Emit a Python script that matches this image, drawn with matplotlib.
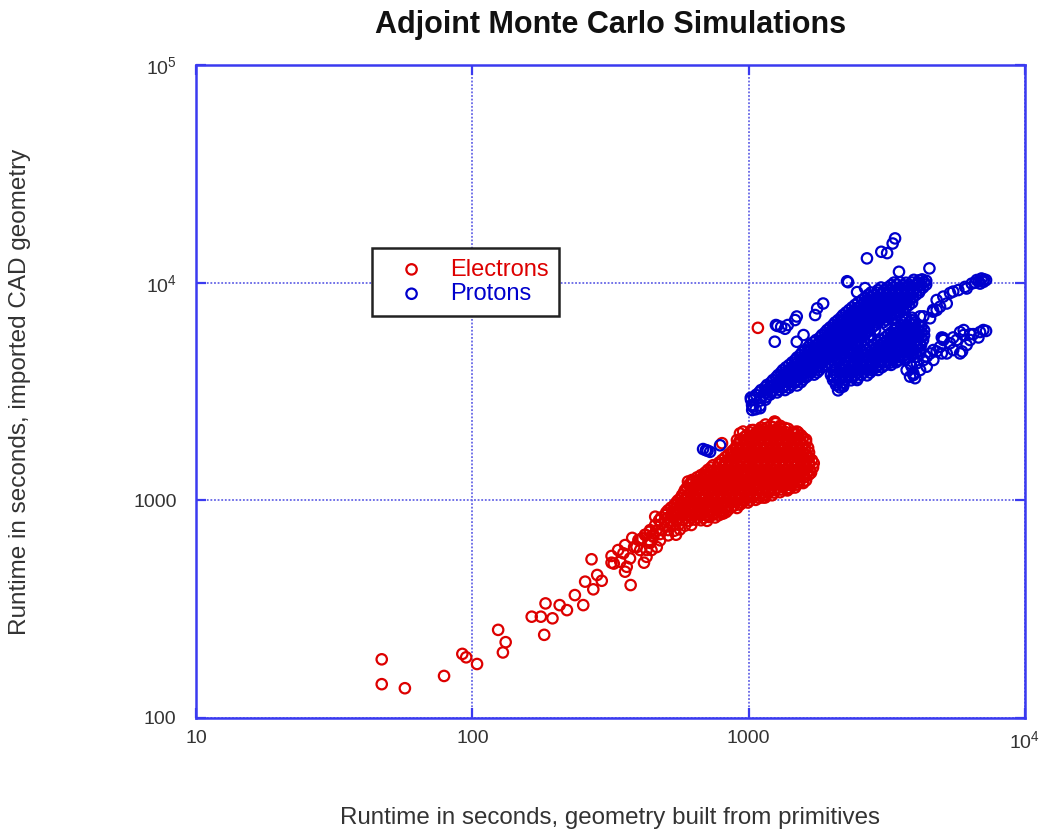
import numpy as np
import matplotlib
matplotlib.use("agg")
from matplotlib import pyplot as plt
from matplotlib.ticker import FixedLocator, FixedFormatter, NullLocator

plt.rcParams['font.family'] = ['Liberation Sans', 'DejaVu Sans']
plt.rcParams['mathtext.fontset'] = 'custom'
plt.rcParams['mathtext.rm'] = 'Liberation Sans'
plt.rcParams['mathtext.it'] = 'Liberation Sans'

# runtimes in seconds: (geometry from primitives, imported CAD geometry)

# electrons - sparse low-runtime tail
electron_tail = [
    (47, 186), (47, 143), (57, 137), (79, 156), (92, 197), (95, 190), (104, 177),
    (124, 254), (132, 223), (129, 200), (164, 292), (177, 292), (184, 336),
    (195, 287), (182, 241), (207, 330), (220, 313), (235, 367), (252, 330),
    (256, 423), (274, 390), (270, 536), (283, 454), (294, 427), (319, 517),
    (352, 571), (362, 495), (374, 408), (418, 517), (399, 657), (438, 717),
    (459, 841), (343, 522), (357, 470), (325, 512), (405, 591), (440, 637),
    (452, 680), (427, 591), (465, 610), (385, 610), (393, 610), (372, 541),
    (412, 669), (422, 693), (445, 591), (427, 550), (357, 623), (379, 672),
    (337, 591), (319, 555), (1080, 6200),
]

# electrons - dense main group
electron_core = [
    (1150, 2230), (1200, 2190), (1250, 2260), (1300, 2200), (1240, 2300),
    (1025, 2100), (1080, 2080), (1135, 2120), (1194, 2090), (1255, 2110), (1320, 2070), (1390, 2130), (1460, 2060),
    (985, 2000), (1040, 1980), (1090, 2010), (1145, 1990), (1205, 2005), (1270, 1985), (1333, 2000), (1400, 1975),
    (1473, 2010), (1547, 1990),
    (930, 1890), (978, 1900), (1025, 1880), (1080, 1895), (1135, 1900), (1194, 1885), (1255, 1890), (1320, 1905),
    (1390, 1880), (1460, 1895), (1534, 1885), (1613, 1900),
    (907, 1800), (954, 1790), (1000, 1805), (1050, 1795), (1105, 1785), (1165, 1800), (1225, 1790), (1290, 1805),
    (1355, 1795), (1425, 1800), (1495, 1785), (1575, 1795),
    (879, 1700), (922, 1710), (970, 1695), (1017, 1705), (1065, 1700), (1125, 1710), (1185, 1695), (1247, 1705),
    (1310, 1700), (1380, 1695), (1450, 1710), (1520, 1700), (1600, 1705),
    (843, 1620), (886, 1610), (930, 1615), (978, 1625), (1025, 1610), (1080, 1620), (1135, 1605), (1194, 1615),
    (1255, 1620), (1320, 1610), (1390, 1615), (1460, 1625), (1534, 1610), (1613, 1620),
    (801, 1530), (843, 1535), (886, 1525), (930, 1540), (978, 1530), (1025, 1535), (1080, 1525), (1135, 1530),
    (1194, 1540), (1255, 1530), (1320, 1525), (1390, 1535), (1460, 1530), (1534, 1540), (1613, 1525), (1695, 1530),
    (744, 1450), (781, 1460), (822, 1445), (864, 1455), (907, 1450), (954, 1460), (1000, 1445), (1050, 1455),
    (1105, 1450), (1165, 1460), (1225, 1445), (1290, 1455), (1355, 1450), (1425, 1460), (1495, 1445), (1575, 1455),
    (1655, 1450),
    (712, 1380), (750, 1370), (788, 1385), (829, 1375), (871, 1380), (915, 1370), (962, 1385), (1010, 1375),
    (1060, 1380), (1115, 1370), (1175, 1385), (1237, 1375), (1299, 1380), (1367, 1370), (1436, 1385), (1510, 1375),
    (1585, 1380), (1668, 1370),
    (672, 1305), (707, 1310), (744, 1300), (781, 1315), (822, 1305), (864, 1310), (907, 1300), (954, 1305),
    (1000, 1315), (1050, 1300), (1105, 1310), (1165, 1305), (1225, 1300), (1290, 1315), (1355, 1305), (1425, 1310),
    (1495, 1300), (1575, 1305), (1655, 1315),
    (624, 1240), (656, 1235), (689, 1245), (725, 1240), (762, 1230), (801, 1245), (843, 1240), (886, 1235),
    (930, 1245), (978, 1240), (1025, 1230), (1080, 1245), (1135, 1240), (1194, 1235), (1255, 1245), (1320, 1240),
    (1390, 1230), (1460, 1245), (1534, 1240), (1613, 1235),
    (608, 1180), (640, 1170), (672, 1175), (707, 1185), (744, 1170), (781, 1180), (822, 1175), (864, 1170),
    (907, 1185), (954, 1175), (1000, 1180), (1050, 1170), (1105, 1175), (1165, 1185), (1225, 1170), (1290, 1180),
    (1355, 1175), (1425, 1170), (1495, 1180),
    (588, 1115), (620, 1120), (650, 1110), (684, 1115), (720, 1125), (756, 1110), (795, 1115), (836, 1120),
    (879, 1110), (922, 1115), (970, 1125), (1017, 1110), (1065, 1115), (1125, 1120), (1185, 1110), (1247, 1115),
    (1310, 1120), (1380, 1110),
    (574, 1055), (603, 1050), (635, 1060), (667, 1055), (700, 1050), (737, 1060), (775, 1055), (815, 1045),
    (857, 1060), (900, 1055), (946, 1050), (993, 1060), (1040, 1055), (1098, 1050), (1155, 1060), (1215, 1055),
    (555, 1000), (583, 1005), (614, 995), (645, 1000), (678, 1010), (712, 995), (750, 1000), (788, 1005),
    (829, 995), (871, 1000), (915, 1010), (962, 995), (1010, 1000), (1060, 1005),
    (538, 950), (564, 945), (593, 955), (624, 950), (656, 945), (689, 955), (725, 950), (762, 945),
    (801, 955), (843, 950), (886, 945), (930, 955),
    (511, 900), (538, 905), (564, 895), (593, 900), (624, 910), (656, 900), (689, 895), (725, 905),
    (762, 900), (801, 895), (843, 905),
    (499, 855), (525, 850), (550, 860), (578, 855), (608, 850), (640, 860), (672, 855), (707, 850),
    (744, 860), (781, 855),
    (474, 810), (499, 815), (525, 805), (550, 815), (578, 810), (608, 805), (640, 815), (672, 810), (707, 805),
    (459, 770), (482, 775), (507, 765), (533, 770), (560, 775), (588, 765), (620, 770),
    (440, 730), (463, 725), (487, 735), (511, 730), (538, 725), (564, 735),
    (422, 695), (448, 690), (478, 700), (511, 690), (546, 695),
    (405, 660), (440, 650), (478, 655),
]

# electrons - runs lying between the rows above
electron_core_mid = [
    (1109, 2160), (1166, 2155), (1225, 2165), (1288, 2160), (1354, 2150),
    (1012, 2050), (1064, 2045), (1118, 2055), (1176, 2050), (1236, 2040), (1299, 2050), (1365, 2055), (1436, 2045),
    (1510, 2050),
    (962, 1945), (1012, 1940), (1064, 1950), (1118, 1945), (1176, 1935), (1236, 1945), (1299, 1950), (1365, 1940),
    (1436, 1945), (1510, 1950), (1574, 1940),
    (930, 1845), (978, 1840), (1029, 1850), (1082, 1845), (1137, 1835), (1195, 1845), (1257, 1850), (1321, 1840),
    (1389, 1845), (1460, 1850), (1535, 1840), (1613, 1845),
    (900, 1750), (946, 1745), (995, 1755), (1046, 1750), (1100, 1740), (1156, 1750), (1215, 1755), (1278, 1745),
    (1343, 1750), (1412, 1755), (1484, 1745), (1561, 1750), (1641, 1745),
    (864, 1660), (907, 1655), (954, 1665), (1003, 1660), (1055, 1650), (1109, 1660), (1166, 1665), (1225, 1655),
    (1288, 1660), (1354, 1665), (1424, 1655), (1497, 1660), (1574, 1650), (1654, 1660),
    (822, 1575), (864, 1570), (907, 1580), (954, 1575), (1003, 1565), (1055, 1575), (1109, 1580), (1166, 1570),
    (1225, 1575), (1288, 1580), (1354, 1570), (1424, 1575), (1497, 1580), (1574, 1570), (1654, 1575),
    (781, 1490), (822, 1495), (864, 1485), (907, 1490), (954, 1495), (1003, 1485), (1055, 1490), (1109, 1495),
    (1166, 1485), (1225, 1490), (1288, 1495), (1354, 1485), (1424, 1490), (1497, 1495), (1574, 1485), (1654, 1490),
    (731, 1415), (769, 1410), (808, 1420), (850, 1415), (893, 1405), (938, 1415), (986, 1420), (1037, 1410),
    (1091, 1415), (1147, 1420), (1205, 1410), (1267, 1415), (1332, 1420), (1400, 1410), (1472, 1415), (1547, 1420),
    (1627, 1410), (1710, 1415),
    (695, 1340), (731, 1345), (769, 1335), (808, 1340), (850, 1345), (893, 1335), (938, 1340), (986, 1345),
    (1037, 1335), (1091, 1340), (1147, 1345), (1205, 1335), (1267, 1340), (1332, 1345), (1400, 1335), (1472, 1340),
    (1547, 1345), (1627, 1335), (1682, 1340),
    (651, 1275), (684, 1270), (719, 1280), (756, 1275), (795, 1265), (836, 1275), (879, 1280), (922, 1270),
    (970, 1275), (1020, 1280), (1073, 1270), (1128, 1275), (1186, 1280), (1246, 1270), (1310, 1275), (1377, 1280),
    (1448, 1270), (1522, 1275), (1600, 1280),
    (620, 1205), (651, 1210), (684, 1200), (719, 1205), (756, 1210), (795, 1200), (836, 1205), (879, 1210),
    (922, 1200), (970, 1205), (1020, 1210), (1073, 1200), (1128, 1205), (1186, 1210), (1246, 1200), (1310, 1205),
    (1377, 1210), (1448, 1200), (1522, 1205), (1574, 1210),
    (598, 1145), (630, 1150), (661, 1140), (695, 1145), (731, 1150), (769, 1140), (808, 1145), (850, 1150),
    (893, 1140), (938, 1145), (986, 1150), (1037, 1140), (1091, 1145), (1147, 1150), (1205, 1140), (1267, 1145),
    (1332, 1150), (1400, 1140), (1472, 1145),
    (583, 1085), (614, 1090), (645, 1080), (678, 1085), (712, 1090), (750, 1080), (788, 1085), (829, 1090),
    (871, 1080), (915, 1085), (962, 1090), (1012, 1080), (1064, 1085), (1118, 1090), (1176, 1080), (1236, 1085),
    (1299, 1090),
    (569, 1030), (598, 1025), (630, 1035), (661, 1030), (695, 1020), (731, 1030), (769, 1035), (808, 1025),
    (850, 1030), (893, 1035), (938, 1025), (986, 1030), (1037, 1035), (1091, 1025), (1147, 1030),
    (547, 977), (574, 972), (603, 982), (635, 977), (667, 970), (700, 980), (737, 975), (775, 982),
    (815, 972), (857, 977), (900, 982), (946, 972), (993, 977),
    (524, 926), (547, 930), (574, 920), (608, 926), (640, 932), (672, 922), (707, 926), (744, 930),
    (781, 920), (822, 926), (864, 930), (907, 922),
    (503, 879), (529, 884), (555, 874), (583, 879), (614, 884), (645, 874), (678, 879), (712, 884),
    (750, 874), (788, 879), (829, 884),
    (482, 834), (507, 830), (533, 838), (560, 834), (588, 828), (620, 836), (650, 834), (684, 830),
    (719, 838), (756, 834),
]

# electrons - loose points round the edge of the main group
electron_edge = [
    (1247, 2290), (1495, 2070), (1720, 1480), (1575, 1560), (1412, 1135), (1010, 1035),
    (810, 870), (630, 1218), (695, 1307), (955, 2070), (1040, 2104), (1098, 2104),
    (801, 1830), (907, 1893), (930, 2030), (603, 1220), (688, 1307), (1378, 1130),
    (1575, 1200), (1128, 1030), (836, 902), (800, 870),
]

# protons - main diagonal bands
proton_bands = [
    (3960, 10300), (4140, 10250), (4240, 10350), (4390, 10200),
    (3277, 9750), (3440, 9800), (3620, 9700), (3806, 9780), (4001, 9720), (4207, 9760), (4390, 9800),
    (2940, 9250), (3090, 9200), (3249, 9280), (3415, 9230), (3590, 9260), (3775, 9210), (3968, 9270), (4172, 9240),
    (2705, 8780), (2844, 8750), (2989, 8800), (3142, 8760), (3303, 8790), (3473, 8740), (3651, 8780), (3838, 8760),
    (4035, 8800),
    (2572, 8320), (2705, 8350), (2844, 8300), (2989, 8330), (3142, 8310), (3303, 8340), (3473, 8300), (3651, 8330),
    (3838, 8320),
    (2427, 7900), (2551, 7870), (2683, 7910), (2820, 7880), (2965, 7900), (3116, 7870), (3277, 7910), (3444, 7890),
    (3620, 7880), (3806, 7900),
    (2310, 7490), (2427, 7470), (2551, 7500), (2683, 7480), (2820, 7460), (2965, 7500), (3116, 7480), (3277, 7490),
    (3444, 7470), (3620, 7500),
    (2197, 7100), (2310, 7080), (2427, 7110), (2551, 7090), (2683, 7100), (2820, 7120), (2965, 7080), (3116, 7100),
    (3277, 7090), (3444, 7110),
    (2107, 6730), (2215, 6750), (2328, 6720), (2448, 6740), (2572, 6730), (2705, 6750), (2844, 6720), (2989, 6740),
    (3142, 6730), (3303, 6750), (3681, 6740), (3904, 6720),
    (2020, 6390), (2124, 6370), (2233, 6400), (2347, 6380), (2468, 6390), (2594, 6370), (2727, 6400), (2867, 6380),
    (3168, 6370), (3560, 6390), (3742, 6380), (3935, 6400), (4137, 6370),
    (1924, 6060), (2020, 6040), (2124, 6070), (2233, 6050), (2347, 6060), (2468, 6040), (2594, 6070), (2727, 6050),
    (2867, 6060), (3359, 6060), (3531, 6050), (3711, 6070), (3904, 6040), (4104, 6060), (4314, 6050),
    (1843, 5750), (1937, 5730), (2037, 5760), (2142, 5740), (2251, 5750), (2367, 5730), (2489, 5760), (2617, 5740),
    (2750, 5750), (3194, 5740), (3359, 5760), (3531, 5730), (3711, 5750), (3904, 5740), (4104, 5760), (4314, 5730),
    (1754, 5450), (1843, 5430), (1937, 5460), (2037, 5440), (2142, 5450), (2251, 5470), (2367, 5440), (2489, 5450),
    (2617, 5430), (3014, 5450), (3168, 5440), (3330, 5460), (3502, 5450), (3681, 5430), (3870, 5460), (4069, 5440),
    (4278, 5450),
    (1668, 5170), (1754, 5150), (1843, 5180), (1937, 5160), (2037, 5170), (2142, 5150), (2251, 5180), (2367, 5160),
    (2489, 5170), (2844, 5160), (2989, 5180), (3142, 5150), (3303, 5170), (3473, 5160), (3651, 5180), (3838, 5150),
    (4035, 5170), (4207, 5160),
    (1600, 4900), (1682, 4920), (1768, 4890), (1859, 4910), (1955, 4900), (2054, 4920), (2160, 4890), (2271, 4910),
    (2387, 4900), (2660, 4910), (2796, 4890), (2940, 4920), (3090, 4900), (3249, 4910), (3415, 4890), (3590, 4920),
    (3775, 4900), (3968, 4910), (4172, 4890),
    (1535, 4650), (1613, 4630), (1696, 4660), (1783, 4640), (1874, 4650), (1970, 4670), (2071, 4640), (2178, 4650),
    (2367, 4660), (2489, 4640), (2617, 4650), (2750, 4670), (2891, 4640), (3040, 4650), (3194, 4660), (3359, 4640),
    (3531, 4650), (3711, 4670), (3904, 4640),
    (1472, 4410), (1547, 4430), (1627, 4400), (1710, 4420), (1798, 4410), (1890, 4400), (1986, 4430), (2088, 4410),
    (2233, 4420), (2347, 4400), (2468, 4410), (2594, 4430), (2727, 4400), (2867, 4420), (3014, 4410), (3168, 4400),
    (3330, 4430), (3502, 4410), (3681, 4420),
    (1400, 4180), (1472, 4200), (1547, 4170), (1627, 4190), (1710, 4180), (1798, 4170), (1890, 4200), (1986, 4180),
    (2197, 4190), (2310, 4170), (2427, 4200), (2551, 4180), (2683, 4190), (2820, 4170), (2965, 4200), (3116, 4180),
    (3277, 4190),
    (1331, 3970), (1400, 3950), (1472, 3980), (1547, 3960), (1627, 3970), (1710, 3990), (1798, 3960), (2071, 3970),
    (2178, 3950), (2290, 3980), (2407, 3960), (2530, 3970), (2660, 3990), (2796, 3960), (2940, 3970),
    (1278, 3760), (1343, 3780), (1412, 3750), (1484, 3770), (1561, 3760), (1641, 3750), (1725, 3780), (1986, 3760),
    (2088, 3770), (2197, 3750), (2310, 3780), (2427, 3760), (2551, 3770), (2683, 3750),
    (1225, 3570), (1288, 3550), (1354, 3580), (1424, 3560), (1497, 3570), (1574, 3590), (2020, 3570), (2124, 3550),
    (2233, 3580), (2347, 3560), (2468, 3570),
    (1166, 3390), (1225, 3370), (1288, 3400), (1354, 3380), (1424, 3390), (1497, 3370), (2071, 3390), (2197, 3370),
    (1109, 3210), (1166, 3230), (1225, 3200), (1288, 3220), (1354, 3210), (2107, 3200),
    (1064, 3050), (1128, 3030), (1195, 3060),
    (1020, 2890), (1100, 2870), (1150, 2900),
    (1029, 2740), (1100, 2720),
    (1018, 2960), (1035, 2690), (1100, 2650), (1060, 2620), (1030, 2600),
]

# protons - runs lying between the rows above
proton_bands_mid = [
    (3359, 10010), (3531, 10040), (3712, 9990), (3902, 10020), (4103, 10000), (4313, 10030),
    (3014, 9500), (3168, 9480), (3331, 9510), (3502, 9490), (3681, 9500), (3870, 9520), (4068, 9480), (4277, 9500),
    (2773, 9010), (2915, 9000), (3065, 9020), (3222, 8990), (3387, 9010), (3561, 9000), (3743, 9020), (3935, 8990),
    (4137, 9010),
    (2638, 8540), (2773, 8560), (2915, 8530), (3065, 8550), (3222, 8540), (3387, 8560), (3561, 8530), (3743, 8550),
    (3935, 8540),
    (2488, 8100), (2616, 8120), (2750, 8090), (2891, 8110), (3039, 8100), (3195, 8120), (3359, 8090), (3531, 8110),
    (3712, 8100), (3902, 8090),
    (2367, 7690), (2488, 7670), (2616, 7700), (2750, 7680), (2891, 7690), (3039, 7670), (3195, 7700), (3359, 7680),
    (3531, 7690), (3712, 7680),
    (2252, 7290), (2367, 7300), (2488, 7280), (2616, 7290), (2750, 7300), (2891, 7280), (3039, 7290), (3195, 7300),
    (3359, 7280), (3531, 7290),
    (2160, 6920), (2270, 6910), (2387, 6930), (2509, 6900), (2638, 6920), (2773, 6910), (2915, 6930), (3065, 6900),
    (3222, 6920), (3387, 6910), (3712, 6920), (3902, 6900),
    (2054, 6560), (2160, 6550), (2270, 6570), (2387, 6560), (2509, 6550), (2638, 6570), (2773, 6560), (2915, 6550),
    (3065, 6570), (3620, 6560), (3806, 6550), (4001, 6570),
    (1970, 6220), (2071, 6230), (2178, 6210), (2290, 6220), (2407, 6230), (2530, 6210), (2660, 6220), (2796, 6230),
    (3444, 6220), (3620, 6230), (3806, 6210), (4001, 6220), (4207, 6230),
    (1890, 5900), (1986, 5910), (2088, 5890), (2197, 5900), (2310, 5910), (2427, 5890), (2551, 5900), (2683, 5910),
    (3277, 5900), (3444, 5910), (3620, 5890), (3806, 5900), (4001, 5910), (4207, 5890),
    (1813, 5600), (1904, 5590), (2002, 5610), (2105, 5600), (2213, 5590), (2328, 5610), (2448, 5600), (2572, 5590),
    (2705, 5610), (3116, 5600), (3277, 5590), (3444, 5610), (3620, 5600), (3806, 5590), (4001, 5610), (4207, 5600),
    (1710, 5310), (1798, 5300), (1890, 5320), (1986, 5310), (2088, 5300), (2197, 5320), (2310, 5310), (2427, 5300),
    (2551, 5320), (2940, 5310), (3090, 5300), (3249, 5320), (3415, 5310), (3590, 5300), (3775, 5320), (3968, 5310),
    (4172, 5300),
    (1640, 5040), (1724, 5030), (1813, 5050), (1904, 5040), (2002, 5030), (2105, 5050), (2213, 5040), (2328, 5030),
    (2448, 5050), (2750, 5040), (2891, 5030), (3039, 5050), (3195, 5040), (3359, 5030), (3531, 5050), (3712, 5040),
    (3902, 5030), (4103, 5050),
    (1561, 4780), (1640, 4770), (1724, 4790), (1813, 4780), (1904, 4770), (2002, 4790), (2105, 4780), (2213, 4770),
    (2328, 4790), (2572, 4780), (2705, 4770), (2844, 4790), (2989, 4780), (3142, 4770), (3303, 4790), (3473, 4780),
    (3651, 4770), (3838, 4790), (4035, 4780),
    (1497, 4530), (1574, 4520), (1654, 4540), (1739, 4530), (1828, 4520), (1921, 4540), (2020, 4530), (2124, 4520),
    (2233, 4540), (2347, 4530), (2468, 4520), (2594, 4540), (2727, 4530), (2867, 4520), (3014, 4540), (3168, 4530),
    (3331, 4520), (3502, 4540), (3681, 4530),
    (1436, 4300), (1510, 4290), (1587, 4310), (1668, 4300), (1754, 4290), (1843, 4310), (1937, 4300), (2290, 4300),
    (2407, 4290), (2530, 4310), (2660, 4300), (2796, 4290), (2940, 4310), (3090, 4300), (3249, 4290), (3415, 4310),
    (1365, 4080), (1436, 4070), (1510, 4090), (1587, 4080), (1668, 4070), (1754, 4090), (1843, 4080), (2142, 4070),
    (2252, 4090), (2367, 4080), (2488, 4070), (2616, 4090), (2750, 4080), (2891, 4070), (3039, 4090),
    (1310, 3870), (1377, 3860), (1448, 3880), (1522, 3870), (1600, 3860), (1682, 3880), (1768, 3870), (2037, 3860),
    (2142, 3880), (2252, 3870), (2367, 3860), (2488, 3880), (2616, 3870), (2750, 3860),
    (1257, 3670), (1321, 3660), (1389, 3680), (1460, 3670), (1535, 3660), (1613, 3680), (2037, 3670), (2142, 3660),
    (2252, 3680), (2367, 3670), (2488, 3660),
    (1205, 3480), (1267, 3470), (1332, 3490), (1400, 3480), (1472, 3470), (1547, 3490), (2071, 3480), (2197, 3470),
    (1147, 3300), (1205, 3290), (1267, 3310), (1332, 3300), (1400, 3290),
    (1091, 3130), (1147, 3120), (1205, 3140), (1267, 3130),
    (1046, 2970), (1100, 2960), (1156, 2980),
]

# protons - two groups at the longest primitive runtimes
proton_right = [
    (4650, 7485), (4790, 8320), (5065, 8630), (5355, 8960), (5740, 9248), (6069, 9560), (6415, 9900),
    (6690, 10280), (6960, 10450), (7230, 10280), (6877, 9900), (7070, 10080), (4927, 7750), (5210, 8020),
    (5500, 9100), (6150, 9400), (4290, 7000), (4650, 7360), (4230, 6270), (4172, 7000), (4534, 6860),
    (4790, 7485), (6800, 10150), (7100, 10350), (6600, 10000),
    (3730, 3967), (3946, 3763), (3838, 4260), (4060, 4570), (4290, 4411), (4410, 4110), (4172, 3967),
    (4534, 4730), (4660, 4411), (4927, 5070), (5065, 5560), (5355, 5270), (5500, 4903), (5660, 5450),
    (5920, 4830), (6000, 5745), (6327, 5450), (6500, 5800), (6877, 5930), (7230, 6000), (6785, 5600),
    (6150, 5170), (5210, 4730), (4790, 4830), (5821, 5930), (5000, 5600), (3946, 3830), (4060, 4260),
    (3890, 4110), (4410, 4570), (4172, 4730), (4660, 4903), (3838, 3700), (4001, 3640), (5065, 5450),
    (5500, 5600), (6000, 6058), (6327, 5800), (7070, 6058), (5821, 4730), (5000, 4730),
]

# protons - isolated runs
proton_stray = [
    (3387, 15970), (3320, 15130), (2680, 12930), (3020, 13860), (3170, 13670), (3500, 11220),
    (4510, 11630), (2290, 10050), (2270, 10150), (1770, 7620), (1860, 8020), (1740, 7100),
    (1255, 6387), (1311, 6260), (1385, 6387), (1472, 6733), (1493, 6990), (1354, 6140), (1270, 6330),
    (1243, 5354), (1493, 5350), (1580, 5745), (2638, 9440), (2468, 9050), (2197, 3330), (2020, 3680),
    (2142, 3300), (684, 1720), (700, 1700), (725, 1670), (710, 1690), (788, 1790),
]

x_ticks = [10, 100, 1000, 10000]
x_ticklabels = ['10', '100', '1000', '$10^4$']
y_ticks = [100, 1000, 10000, 100000]
y_ticklabels = ['100', '1000', '$10^4$', '$10^5$']

red = '#dd0000'
blue = '#0000cc'
frame_blue = '#3a3af0'
label_grey = '#333333'

electrons = np.array(electron_tail + electron_core + electron_core_mid + electron_edge, dtype=float)
protons = np.array(proton_bands + proton_bands_mid + proton_right + proton_stray, dtype=float)

fig = plt.figure(figsize=(10.46, 8.31), dpi=100)
ax = fig.add_axes([0.1874, 0.1360, 0.7925, 0.7858])

ax.scatter(electrons[:, 0], electrons[:, 1], s=56, facecolors='none', edgecolors=red,
           linewidths=1.6, label='Electrons', zorder=3)
ax.scatter(protons[:, 0], protons[:, 1], s=56, facecolors='none', edgecolors=blue,
           linewidths=1.6, label='Protons', zorder=3)

ax.set_xscale('log')
ax.set_yscale('log')
ax.set_xlim(10, 10000)
ax.set_ylim(100, 100000)

ax.xaxis.set_major_locator(FixedLocator(x_ticks))
ax.xaxis.set_major_formatter(FixedFormatter(x_ticklabels))
ax.yaxis.set_major_locator(FixedLocator(y_ticks))
ax.yaxis.set_major_formatter(FixedFormatter(y_ticklabels))
ax.xaxis.set_minor_locator(NullLocator())
ax.yaxis.set_minor_locator(NullLocator())

ax.tick_params(which='major', direction='in', length=7, width=1.6, color=frame_blue,
               top=True, right=True, labelsize=14, labelcolor=label_grey)
ax.tick_params(axis='x', pad=9)
ax.tick_params(axis='y', pad=14)

for sp in ax.spines.values():
    sp.set_color(frame_blue)
    sp.set_linewidth(1.8)

ax.grid(True, which='major', color='#6666e6', linestyle=(0, (1, 1)), linewidth=1.3)
ax.set_axisbelow(True)

ax.set_title('Adjoint Monte Carlo Simulations', fontsize=22, fontweight='bold',
             color='#111111', y=1.049, pad=0)
ax.set_xlabel('Runtime in seconds, geometry built from primitives', fontsize=17.4,
              color=label_grey)
ax.xaxis.label.set_va('baseline')
ax.xaxis.set_label_coords(0.5, -0.162)
ax.set_ylabel('Runtime in seconds, imported CAD geometry', fontsize=17.5, color=label_grey)
ax.yaxis.label.set_va('center')
ax.yaxis.set_label_coords(-0.212, 0.5)

leg = ax.legend(loc='upper left', bbox_to_anchor=(0.2123, 0.7198), fancybox=False,
                edgecolor='#222222', fontsize=17, handletextpad=0.4, borderpad=0.45,
                labelspacing=0.1, borderaxespad=0, framealpha=1, handlelength=2.45)
leg.get_frame().set_linewidth(1.8)
for txt, c in zip(leg.get_texts(), [red, blue]):
    txt.set_color(c)

fig.savefig('out.png', dpi=100)
